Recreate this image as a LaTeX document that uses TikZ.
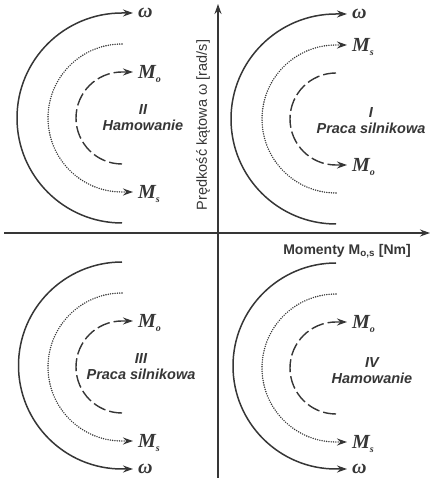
\documentclass[tikz,border=0pt]{standalone}
\usepackage{fontspec}
\usepackage{xcolor}
\usepackage{tikz}
\usetikzlibrary{positioning}
\usetikzlibrary{arrows.meta}
\setmainfont{Liberation Sans}
\newfontfamily\serifbi{Liberation Serif}
\definecolor{ink}{HTML}{363636}
\newcommand{\msub}[2]{#1\raisebox{-4pt}[0pt][0pt]{\fontsize{10}{10}\selectfont #2}}

\tikzset{
  axisline/.style={draw=ink, line width=1.2pt},
  solidarc/.style={draw=ink, line width=1.5pt},
  dotarc/.style={draw=ink, line width=1.6pt, line cap=round, dash pattern=on 0pt off 2.3pt},
  dasharc/.style={draw=ink, line width=1.4pt, dash pattern=on 13pt off 4pt},
  lbl/.style={inner sep=0pt, anchor=west, text=ink, font=\serifbi\bfseries\itshape\fontsize{20}{20}\selectfont},
  quadtxt/.style={align=center, inner sep=0pt, text=ink, font=\bfseries\itshape\fontsize{14.5}{16}\selectfont},
  axlbl/.style={inner sep=0pt, text=ink, font=\bfseries\fontsize{14}{16}\selectfont},
}

\begin{document}
\begin{tikzpicture}[x=1pt, y=1pt, >={Stealth[length=10pt,width=7pt]}]
    \useasboundingbox (0,0) rectangle (430,478);

    % Osie
    \coordinate (ybot)   at (218,0);
    \coordinate (ytop)   at (218,474);
    \coordinate (xleft)  at (4,245);
    \coordinate (xright) at (430,245);
    \draw[axisline,->] (ybot) -- (ytop);
    \draw[axisline,->] (xleft) -- (xright);
    \node (ylbl) [axlbl, rotate=90, font=\fontsize{14.5}{16}\selectfont] at (203,353) {Prędkość kątowa ω [rad/s]};
    \node (xlbl) [axlbl] at (347,227) {Momenty M\textsubscript{o,s} [Nm]};

    % Ćwiartka I
    \coordinate (cI) at (336,359);
    \node (wI)  [lbl] at (352,464) {ω};
    \node (MsI) [lbl] at (352,433) {\msub{M}{s}};
    \node (MoI) [lbl] at (352,313) {\msub{M}{o}};
    \node (tI)  [quadtxt] at (371,357) {I\\Praca silnikowa};
    \draw[solidarc,->] ([yshift=-105pt]cI) arc (270:90:105) -- ([xshift=-5pt]wI.west);
    \draw[dotarc,->]   ([yshift=-74pt]cI) arc (270:90:74) -- ([xshift=-5pt]MsI.west);
    \draw[dasharc,->]  ([yshift=46pt]cI) arc (90:270:46) -- ([xshift=-5pt]MoI.west);

    % Ćwiartka II
    \coordinate (cII) at (122,360);
    \node (wII)  [lbl] at (138,465) {ω};
    \node (MoII) [lbl] at (138,406) {\msub{M}{o}};
    \node (MsII) [lbl] at (138,286) {\msub{M}{s}};
    \node (tII)  [quadtxt] at (143,360) {II\\Hamowanie};
    \draw[solidarc,->] ([yshift=-105pt]cII) arc (270:90:105) -- ([xshift=-5pt]wII.west);
    \draw[dotarc,->]   ([yshift=74pt]cII) arc (90:270:74) -- ([xshift=-5pt]MsII.west);
    \draw[dasharc,->]  ([yshift=-46pt]cII) arc (270:90:46) -- ([xshift=-5pt]MoII.west);

    % Ćwiartka III
    \coordinate (cIII) at (122,111);
    \node (MoIII) [lbl] at (138,157) {\msub{M}{o}};
    \node (MsIII) [lbl] at (138,37) {\msub{M}{s}};
    \node (wIII)  [lbl] at (138,9) {ω};
    \node (tIII)  [quadtxt] at (141,111) {III\\Praca silnikowa};
    \draw[solidarc,->] ([yshift=105pt]cIII) arc (90:270:103.5) -- ([xshift=-5pt]wIII.west);
    \draw[dotarc,->]   ([yshift=74pt]cIII) arc (90:270:74) -- ([xshift=-5pt]MsIII.west);
    \draw[dasharc,->]  ([yshift=-46pt]cIII) arc (270:90:46) -- ([xshift=-5pt]MoIII.west);

    % Ćwiartka IV
    \coordinate (cIV) at (336,110);
    \node (MoIV) [lbl] at (352,156) {\msub{M}{o}};
    \node (MsIV) [lbl] at (352,36) {\msub{M}{s}};
    \node (wIV)  [lbl] at (352,9) {ω};
    \node (tIV)  [quadtxt] at (372,107) {IV\\Hamowanie};
    \draw[solidarc,->] ([yshift=105pt]cIV) arc (90:270:103) -- ([xshift=-5pt]wIV.west);
    \draw[dotarc,->]   ([yshift=74pt]cIV) arc (90:270:74) -- ([xshift=-5pt]MsIV.west);
    \draw[dasharc,->]  ([yshift=-46pt]cIV) arc (270:90:46) -- ([xshift=-5pt]MoIV.west);
\end{tikzpicture}
\end{document}
